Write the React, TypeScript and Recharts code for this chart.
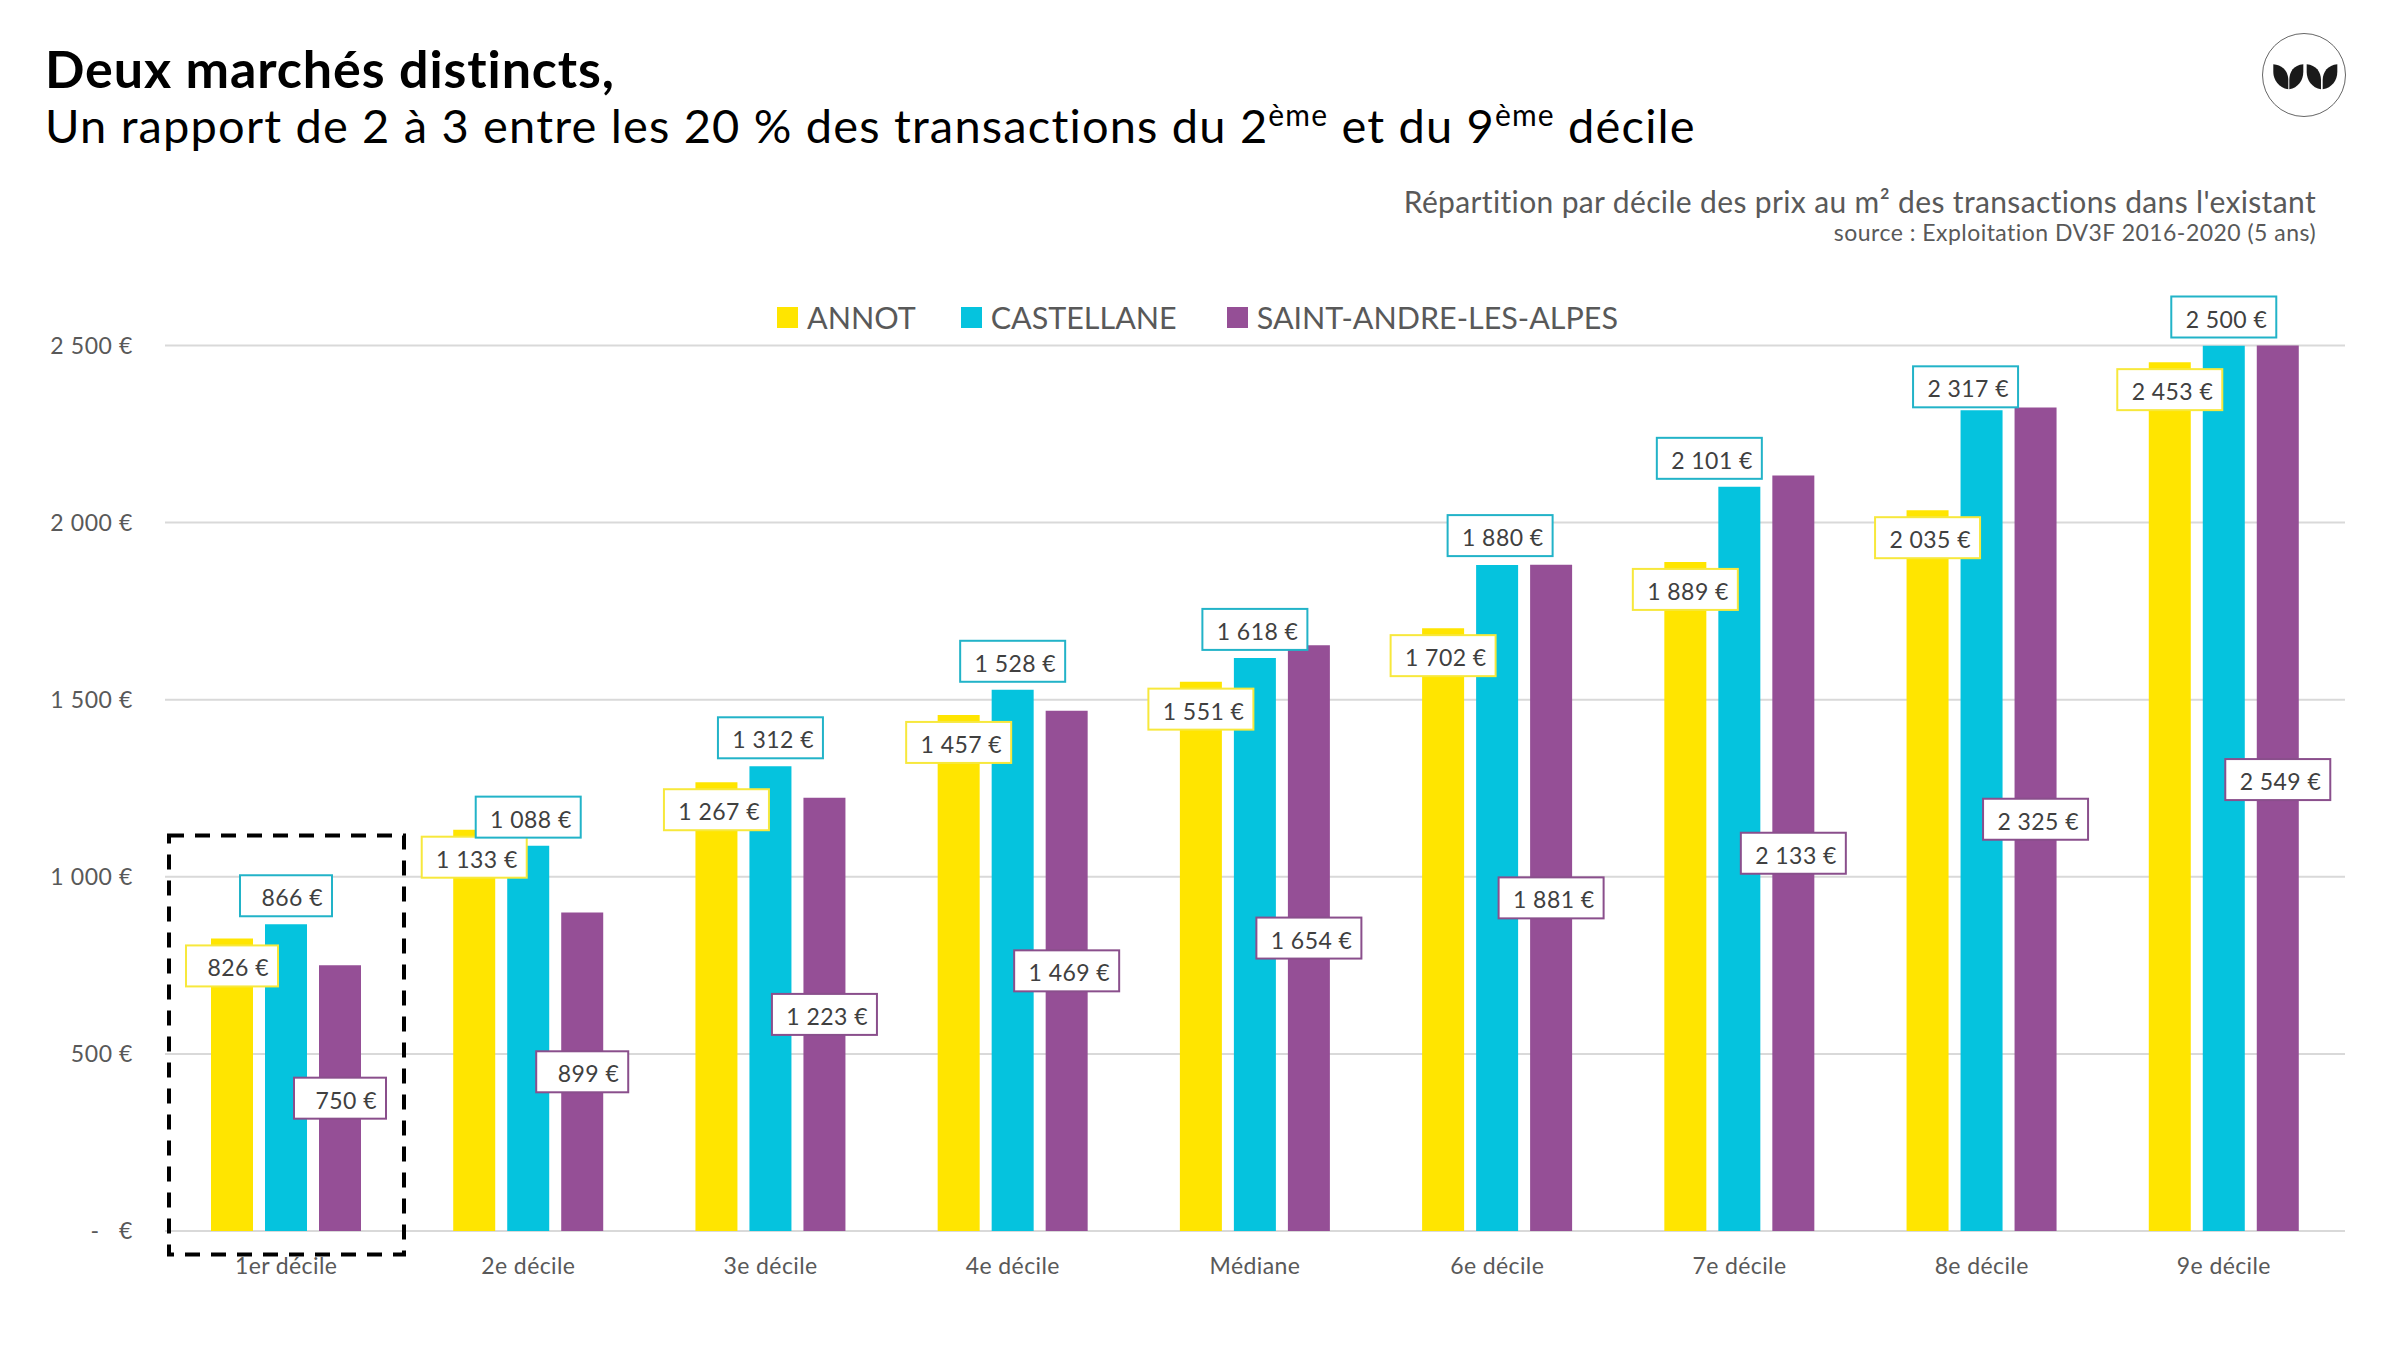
import { BarChart, Bar, XAxis, YAxis, CartesianGrid, Legend } from "recharts";

const FONT = "Lato, sans-serif";

const categories = ["1er décile", "2e décile", "3e décile", "4e décile", "Médiane", "6e décile", "7e décile", "8e décile", "9e décile"];
const annot = [826, 1133, 1267, 1457, 1551, 1702, 1889, 2035, 2453];
const castellane = [866, 1088, 1312, 1528, 1618, 1880, 2101, 2317, 2500];
const saintAndre = [750, 899, 1223, 1469, 1654, 1881, 2133, 2325, 2549];
const yTicks = [0, 500, 1000, 1500, 2000, 2500];

const COLORS = { annot: "#ffe500", castellane: "#05c3de", saintAndre: "#954f96" };
const BORDERS = { annot: "#f7e83c", castellane: "#22b3c8", saintAndre: "#8a4f8c" };

const chartData = categories.map((name, i) => ({
  name,
  annot: annot[i],
  castellane: castellane[i],
  saintAndre: saintAndre[i],
}));

const euro = (v: number) =>
  v === 0 ? "-\u00a0\u00a0\u00a0€" : `${String(v).replace(/\B(?=(\d{3})+$)/g, "\u00a0")}\u00a0€`;

// a few castellane boxes were moved by hand in the original
const castellaneNudge: Record<number, [number, number]> = { 5: [3, -1], 6: [-30, 0], 7: [-16, 5] };

/* eslint-disable @typescript-eslint/no-explicit-any */
const valueBox = (kind: "annot" | "castellane" | "saintAndre") => (props: any) => {
  const { x, y, width, height, value, index } = props;
  const w = value >= 1000 ? 105 : 92;
  const h = 41;
  let cx = x + width / 2;
  let top = y + height / 2 - h / 2;
  if (kind === "annot") top = y + 7;
  if (kind === "castellane") {
    top = y - 8 - h;
    const nudge = castellaneNudge[index];
    if (nudge) {
      cx += nudge[0];
      top += nudge[1];
    }
  }
  return (
    <g>
      <rect x={cx - w / 2} y={top} width={w} height={h} fill="#fff" stroke={BORDERS[kind]} strokeWidth={2} />
      <text x={cx + w / 2 - 9} y={top + h / 2 + 1.5} textAnchor="end" dominantBaseline="central" fontSize={23} letterSpacing={0.45} fill="#404040" fontFamily={FONT}>
        {euro(value)}
      </text>
    </g>
  );
};

const legendItems = [
  { label: "ANNOT", color: COLORS.annot, gap: 45 },
  { label: "CASTELLANE", color: COLORS.castellane, gap: 50 },
  { label: "SAINT-ANDRE-LES-ALPES", color: COLORS.saintAndre, gap: 0 },
];

function ChartLegend() {
  return (
    <div style={{ display: "flex", alignItems: "center", fontFamily: FONT, fontSize: 30.5, color: "#595959" }}>
      {legendItems.map((it) => (
        <div key={it.label} style={{ display: "flex", alignItems: "center", marginRight: it.gap }}>
          <span style={{ width: 21, height: 21, background: it.color, marginRight: 9 }} />
          <span>{it.label}</span>
        </div>
      ))}
    </div>
  );
}

function Logo() {
  return (
    <svg width={90} height={90} viewBox="0 0 90 90" style={{ position: "absolute", left: 2259, top: 30 }}>
      <circle cx={45} cy={45} r={41.5} fill="#fff" stroke="#666" strokeWidth={1} />
      <path d="M14.3 34.3 C24 35 29.3 42 29.3 50 L29.3 59.3 C20 58 14.3 50 14.3 42 Z" fill="#1a1a1a" />
      <path d="M44.3 34.3 C34.6 35 30.3 42 30.3 50 L30.3 59.3 C39 58 44.3 50 44.3 42 Z" fill="#1a1a1a" />
      <path d="M47.7 34.3 C57 35 62 42 62 50 L62 59.3 C53 58 47.7 50 47.7 42 Z" fill="#1a1a1a" />
      <path d="M78.3 34.3 C69 35 63.7 42 63.7 50 L63.7 59.3 C73 58 78.3 50 78.3 42 Z" fill="#1a1a1a" />
    </svg>
  );
}

export default function App() {
  return (
    <div style={{ position: "absolute", left: 0, top: 0, width: 2400, height: 1350, background: "#fff", overflow: "hidden" }}>
      <div style={{ position: "absolute", left: 45, top: 37, fontFamily: FONT, fontSize: 52, fontWeight: 700, letterSpacing: 0.9, color: "#000", whiteSpace: "nowrap" }}>
        Deux marchés distincts,
      </div>
      <div style={{ position: "absolute", left: 45, top: 97, fontFamily: FONT, fontSize: 47, letterSpacing: 1.17, color: "#000", whiteSpace: "nowrap" }}>
        Un rapport de 2 à 3 entre les 20 % des transactions du 2<sup style={{ fontSize: 30, lineHeight: 0 }}>ème</sup> et du 9
        <sup style={{ fontSize: 30, lineHeight: 0 }}>ème</sup> décile
      </div>
      <div style={{ position: "absolute", right: 84, top: 183, fontFamily: FONT, fontSize: 30, letterSpacing: 0.36, color: "#595959", whiteSpace: "nowrap" }}>
        Répartition par décile des prix au m² des transactions dans l'existant
      </div>
      <div style={{ position: "absolute", right: 84, top: 218, fontFamily: FONT, fontSize: 23, letterSpacing: 0.47, color: "#595959", whiteSpace: "nowrap" }}>
        source : Exploitation DV3F 2016-2020 (5 ans)
      </div>
      <Logo />

      <div style={{ position: "absolute", left: 0, top: 0 }}>
        <BarChart
          width={2400}
          height={1350}
          data={chartData}
          margin={{ top: 345.5, right: 55, bottom: 0, left: 0 }}
          barSize={42}
          barGap={12}
        >
          <CartesianGrid vertical={false} stroke="#d9d9d9" strokeWidth={2} />
          <XAxis
            dataKey="name"
            height={119}
            axisLine={false}
            tickLine={false}
            tickMargin={21}
            tick={{ fontSize: 23, fill: "#595959", fontFamily: FONT, letterSpacing: 0.4 }}
          />
          <YAxis
            width={165}
            domain={[0, 2500]}
            allowDataOverflow
            ticks={yTicks}
            tickFormatter={euro}
            axisLine={false}
            tickLine={false}
            tickMargin={26}
            tick={{ fontSize: 23, fill: "#595959", fontFamily: FONT, letterSpacing: 0.6 }}
          />
          <Legend verticalAlign="middle" align="center" content={<ChartLegend />} wrapperStyle={{ top: 299, left: 777, width: 900 }} />
          <Bar dataKey="annot" name="ANNOT" fill={COLORS.annot} isAnimationActive={false} label={valueBox("annot")} />
          <Bar dataKey="castellane" name="CASTELLANE" fill={COLORS.castellane} isAnimationActive={false} label={valueBox("castellane")} />
          <Bar dataKey="saintAndre" name="SAINT-ANDRE-LES-ALPES" fill={COLORS.saintAndre} isAnimationActive={false} label={valueBox("saintAndre")} />
        </BarChart>
      </div>

      <svg width={2400} height={1350} style={{ position: "absolute", left: 0, top: 0, pointerEvents: "none" }}>
        <rect x={169} y={835.5} width={235} height={419} fill="none" stroke="#000" strokeWidth={4} strokeDasharray="15 11" />
      </svg>
    </div>
  );
}
